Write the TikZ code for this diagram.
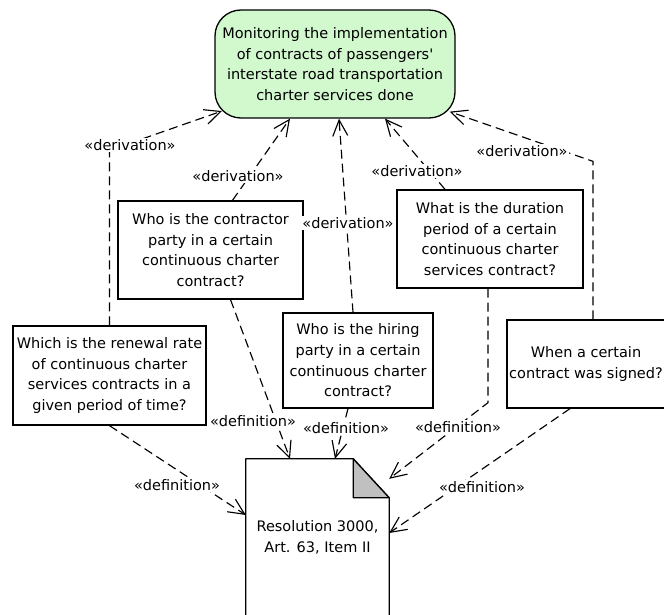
\documentclass[tikz,border=0pt]{standalone}
\usepackage{fontspec}
\setmainfont{DejaVu Sans}
\usetikzlibrary{arrows.meta}
\definecolor{goalgreen}{RGB}{210,248,206}
\definecolor{foldgray}{RGB}{192,192,192}
\begin{document}
\begin{tikzpicture}[x=1pt,y=-1pt,
  every node/.style={font=\fontsize{14.5}{20.7}\selectfont, text=black},
  goal/.style={draw, line width=1.3pt, fill=goalgreen, rounded corners=26pt, align=center, inner sep=0pt},
  question/.style={draw, line width=1.3pt, fill=white, align=center, inner sep=0pt},
  stereo/.style={fill=white, inner sep=1pt},
  dep/.style={draw, line width=1.15pt, dash pattern=on 9pt off 5pt,
    -{Straight Barb[length=16pt,width=15pt]}},
  docline/.style={line width=1.3pt, line join=round}
]
\useasboundingbox (0,0) rectangle (664,615);
\clip (0,0) rectangle (664,615);

% goal
\node[goal, minimum width=240pt, minimum height=108pt] (goal) at (335,64)
  {Monitoring the implementation\\of contracts of passengers\textquotesingle\\interstate road transportation\\charter services done};

% questions
\node[question, minimum width=185pt, minimum height=98pt] (qcontr) at (210.5,250)
  {Who is the contractor\\party in a certain\\continuous charter\\contract?};
\node[question, minimum width=186pt, minimum height=98pt] (qdur) at (490,239)
  {What is the duration\\period of a certain\\continuous charter\\services contract?};
\node[question, minimum width=193pt, minimum height=99pt] (qrenew) at (109.5,375.5)
  {Which is the renewal rate\\of continuous charter\\services contracts in a\\given period of time?};
\node[question, minimum width=150pt, minimum height=95pt] (qhire) at (358,360.5)
  {Who is the hiring\\party in a certain\\continuous charter\\contract?};
\node[question, minimum width=158pt, minimum height=88pt] (qsign) at (586,364)
  {When a certain\\contract was signed?};

% source document with folded corner
\node[minimum width=143pt, minimum height=156pt, inner sep=0pt, align=center] (doc) at (317.5,537)
  {Resolution 3000,\\Art. 63, Item II};
\draw[docline] (doc.south west) -- (doc.north west) -- ([xshift=-36pt]doc.north east)
  -- ([yshift=-39pt]doc.north east) -- (doc.south east);
\filldraw[docline, fill=foldgray] ([xshift=-36pt]doc.north east)
  -- ([xshift=-36pt,yshift=-39pt]doc.north east) -- ([yshift=-39pt]doc.north east) -- cycle;

% derivation dependencies
\draw[dep] (qrenew.north) -- ++(0,-175) -- ([shift={(7.6,-7.6)}]goal.south west);
\draw[dep] ([xshift=22pt]qcontr.north) -- ([xshift=-45pt]goal.south);
\draw[dep] ([xshift=-5pt]qhire.north) -- ([xshift=4pt]goal.south);
\draw[dep] ([xshift=-45pt]qdur.north) -- ([xshift=50pt]goal.south);
\draw[dep] ([xshift=7pt]qsign.north) -- ++(0,-158) -- ([shift={(-6,-7)}]goal.south east);

% definition dependencies
\draw[dep] ([xshift=20pt]qcontr.south) -- ([xshift=-27.5pt]doc.north);
\draw[dep] ([xshift=-10pt]qhire.south) -- ([xshift=17.5pt]doc.north);
\draw[dep] ([xshift=-2pt]qdur.south) -- ++(0,114) -- ([yshift=-20pt]doc.north east);
\draw[dep] ([xshift=-16pt]qsign.south) -- ([yshift=4pt]doc.east);
\draw[dep] (qrenew.south) -- ([yshift=22pt]doc.west);

% stereotype labels
\node[stereo] (d1) at (130,145) {«derivation»};
\node[stereo] (d2) at (238,176) {«derivation»};
\node[stereo] (d3) at (348,223) {«derivation»};
\node[stereo] (d4) at (417,171) {«derivation»};
\node[stereo] (d5) at (522,151) {«derivation»};
\node[stereo] (f1) at (253,421) {«definition»};
\node[stereo] (f2) at (346,428) {«definition»};
\node[stereo] (f3) at (458,427) {«definition»};
\node[stereo] (f4) at (482,487) {«definition»};
\node[stereo] (f5) at (177,485) {«definition»};
\end{tikzpicture}
\end{document}
